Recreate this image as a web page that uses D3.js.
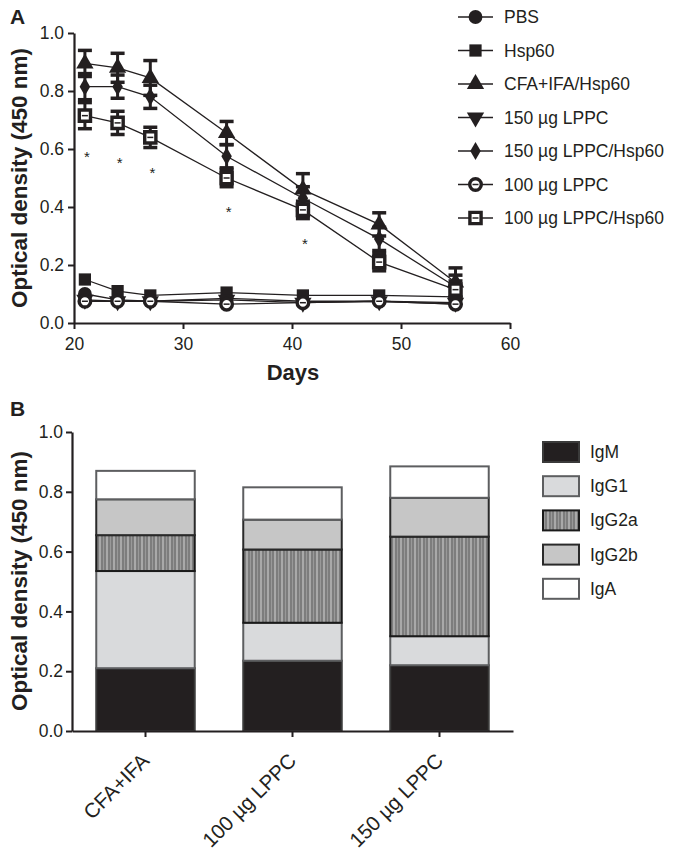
<!DOCTYPE html>
<html><head><meta charset="utf-8">
<script src="https://cdn.jsdelivr.net/npm/d3@7/dist/d3.min.js"></script>
<style>body{margin:0;background:#fff}svg{display:block;font-family:Arial,"Liberation Sans",sans-serif}</style>
</head><body><svg id="c" width="675" height="854"></svg>
<script>
// ---------- Panel A data ----------
const days = [21, 24, 27, 34, 41, 48, 55];
const seriesNames = ["PBS","Hsp60","CFA+IFA/Hsp60","150 µg LPPC","150 µg LPPC/Hsp60","100 µg LPPC","100 µg LPPC/Hsp60"];
const pbs        = [0.10, 0.080, 0.075, 0.085, 0.075, 0.075, 0.065];
const hsp60      = [0.15, 0.110, 0.095, 0.105, 0.095, 0.095, 0.090];
const cfaHsp     = [0.895, 0.88, 0.845, 0.655, 0.46, 0.34, 0.14];
const lppc150    = [0.080, 0.075, 0.075, 0.080, 0.070, 0.075, 0.070];
const lppc150Hsp = [0.815, 0.815, 0.78, 0.575, 0.43, 0.29, 0.125];
const lppc100    = [0.075, 0.075, 0.075, 0.065, 0.070, 0.075, 0.065];
const lppc100Hsp = [0.715, 0.69, 0.64, 0.50, 0.39, 0.21, 0.115];
const errCfa     = [0.045, 0.05, 0.06, 0.04, 0.055, 0.04, 0.05];
const err150Hsp  = [0.045, 0.04, 0.04, 0.04, 0.04, 0.04, 0.04];
const err100Hsp  = [0.045, 0.04, 0.035, 0.03, 0.03, 0.03, 0.03];
const starDays   = [21, 24, 27, 34, 41];
const xTicksA = [20, 30, 40, 50, 60];
const yTicks = [0, 0.2, 0.4, 0.6, 0.8, 1.0];

// ---------- Panel B data ----------
const groups = ["CFA+IFA", "100 µg LPPC", "150 µg LPPC"];
const isotypes = ["IgM", "IgG1", "IgG2a", "IgG2b", "IgA"];
const igM   = [0.21, 0.235, 0.22];
const igG1  = [0.325, 0.127, 0.097];
const igG2a = [0.12, 0.245, 0.333];
const igG2b = [0.12, 0.10, 0.13];
const igA   = [0.095, 0.108, 0.105];

const ink = "#231f20";
const svg = d3.select("#c");
const defs = svg.append("defs");
const pat = defs.append("pattern").attr("id","stripes").attr("patternUnits","userSpaceOnUse")
  .attr("width",7).attr("height",10);
pat.append("rect").attr("width",7).attr("height",10).attr("fill","#7d7d7d");
pat.append("rect").attr("x",1).attr("width",2).attr("height",10).attr("fill","#a9a9a9");
pat.append("rect").attr("x",5).attr("width",1).attr("height",10).attr("fill","#999");

function styleAxis(a, fs){
  a.attr("font-size", fs).attr("font-family","Arial, Liberation Sans, sans-serif");
  a.select(".domain").attr("stroke",ink).attr("stroke-width",2.2);
  a.selectAll(".tick line").attr("stroke",ink).attr("stroke-width",2);
  a.selectAll(".tick text").attr("fill",ink).attr("font-size",fs);
}

// ================= Panel A =================
const xA = d3.scaleLinear().domain([20,60]).range([74,510]);
const yA = d3.scaleLinear().domain([0,1]).range([323,33]);
const gA = svg.append("g");

const axA = gA.append("g").attr("transform","translate(0,323)")
  .call(d3.axisBottom(xA).tickValues(xTicksA).tickSize(6).tickSizeOuter(0).tickFormat(d3.format("d")));
const ayA = gA.append("g").attr("transform","translate(74,0)")
  .call(d3.axisLeft(yA).tickValues(yTicks).tickSize(6).tickSizeOuter(0).tickFormat(d3.format(".1f")));
styleAxis(axA, 17.5); styleAxis(ayA, 17.5);
axA.selectAll(".tick text").attr("dy","1.0em");
ayA.selectAll(".tick text").attr("dx","-1px");

gA.append("text").attr("x",293).attr("y",380).attr("text-anchor","middle")
  .attr("font-weight","bold").attr("font-size",22).attr("fill",ink).text("Days");
gA.append("text").attr("transform","translate(27,178) rotate(-90)").attr("text-anchor","middle")
  .attr("font-weight","bold").attr("font-size",22.5).attr("fill",ink).text("Optical density (450 nm)");
svg.append("text").attr("x",10).attr("y",24).attr("font-weight","bold").attr("font-size",21).attr("fill",ink).text("A");

const seriesA = [
  {name: seriesNames[0], vals: pbs, sym: "circle"},
  {name: seriesNames[1], vals: hsp60, sym: "square"},
  {name: seriesNames[3], vals: lppc150, sym: "tridown"},
  {name: seriesNames[5], vals: lppc100, sym: "ocircle"},
  {name: seriesNames[2], vals: cfaHsp, sym: "triangle", err: errCfa},
  {name: seriesNames[4], vals: lppc150Hsp, sym: "diamond", err: err150Hsp},
  {name: seriesNames[6], vals: lppc100Hsp, sym: "osquare", err: err100Hsp}
];
const symMap = {circle:[d3.symbolCircle,150], square:[d3.symbolSquare,150], triangle:[d3.symbolTriangle,130],
  tridown:[d3.symbolTriangle,130], diamond:[d3.symbolDiamond,95], ocircle:[d3.symbolCircle,105], osquare:[d3.symbolSquare,125]};
function drawMarker(g, x, y, sym){
  const [type,size] = symMap[sym];
  const p = g.append("path").attr("d", d3.symbol().type(type).size(size)())
    .attr("transform", `translate(${x},${y})` + (sym==="tridown"?" rotate(180)":""));
  if (sym==="ocircle"||sym==="osquare"){
    p.attr("fill","#fff").attr("stroke",ink).attr("stroke-width",3.4);
    g.append("line").attr("x1",x-3).attr("x2",x+3).attr("y1",y).attr("y2",y).attr("stroke",ink).attr("stroke-width",1.5);
  } else p.attr("fill",ink);
}
const line = d3.line().x((d,i)=>xA(days[i])).y(d=>yA(d));
const plot = gA.append("g");
seriesA.forEach(s=>{
  const g = plot.append("g");
  g.append("path").attr("d", line(s.vals)).attr("fill","none").attr("stroke",ink).attr("stroke-width",1.3);
  if (s.err) s.vals.forEach((v,i)=>{
    const x = xA(days[i]);
    [v + s.err[i], v - s.err[i]].forEach(e=>{
      g.append("line").attr("x1",x).attr("x2",x).attr("y1",yA(v)).attr("y2",yA(e)).attr("stroke",ink).attr("stroke-width",3);
      g.append("line").attr("x1",x-7).attr("x2",x+7).attr("y1",yA(e)).attr("y2",yA(e)).attr("stroke",ink).attr("stroke-width",3.5);
    });
  });
  s.vals.forEach((v,i)=>drawMarker(g, xA(days[i]), yA(v), s.sym));
});
starDays.forEach(d=>{
  const i = days.indexOf(d);
  const v = lppc100Hsp[i] - err100Hsp[i];
  gA.append("text").attr("x",xA(d)+2).attr("y",yA(v)+ (i<2?33:30)).attr("text-anchor","middle")
    .attr("font-size",15).attr("fill",ink).text("*");
});

// legend A
const legSyms = ["circle","square","triangle","tridown","diamond","ocircle","osquare"];
seriesNames.forEach((name,i)=>{
  const y = 17 + i*33.5;
  const g = svg.append("g");
  g.append("line").attr("x1",458).attr("x2",493).attr("y1",y).attr("y2",y).attr("stroke",ink).attr("stroke-width",1.6);
  drawMarker(g, 475.5, y, legSyms[i]);
  g.append("text").attr("x",504).attr("y",y+6).attr("font-size",17.5).attr("fill",ink).text(name);
});

// ================= Panel B =================
const xB = d3.scaleBand().domain(groups).range([72,513]).paddingInner(0.33).paddingOuter(0.165);
const yB = d3.scaleLinear().domain([0,1]).range([731,432]);
const gB = svg.append("g");
const stackData = groups.map((g,i)=>({group:g, IgM:igM[i], IgG1:igG1[i], IgG2a:igG2a[i], IgG2b:igG2b[i], IgA:igA[i]}));
const stacked = d3.stack().keys(isotypes)(stackData);
const fills = {IgM:ink, IgG1:"#d9dadc", IgG2a:"url(#stripes)", IgG2b:"#c6c6c6", IgA:"#fff"};
const strokes = {IgM:"#3a3a3a", IgG1:"#5d5e60", IgG2a:"#1a1a1a", IgG2b:"#2a2a2a", IgA:"#5d5e60"};
stacked.forEach(layer=>{
  gB.append("g").selectAll("rect").data(layer).join("rect")
    .attr("x", d=>xB(d.data.group)).attr("width", xB.bandwidth())
    .attr("y", d=>yB(d[1])).attr("height", d=>yB(d[0])-yB(d[1]))
    .attr("fill", fills[layer.key]).attr("stroke", strokes[layer.key]).attr("stroke-width",2);
});
const axB = gB.append("g").attr("transform","translate(0,731)")
  .call(d3.axisBottom(xB).tickSize(6).tickSizeOuter(0));
const ayB = gB.append("g").attr("transform","translate(72,0)")
  .call(d3.axisLeft(yB).tickValues(yTicks).tickSize(6).tickSizeOuter(0).tickFormat(d3.format(".1f")));
styleAxis(axB, 20.5); styleAxis(ayB, 17.5);
axB.selectAll(".tick text").attr("text-anchor","end").attr("dy",null).attr("y",0)
  .attr("transform","translate(5,31) rotate(-45)");
gB.append("text").attr("transform","translate(27,581) rotate(-90)").attr("text-anchor","middle")
  .attr("font-weight","bold").attr("font-size",22.5).attr("fill",ink).text("Optical density (450 nm)");
svg.append("text").attr("x",10).attr("y",416).attr("font-weight","bold").attr("font-size",21).attr("fill",ink).text("B");

// legend B
isotypes.forEach((k,i)=>{
  const y = 442 + i*34.2;
  svg.append("rect").attr("x",543).attr("y",y).attr("width",36).attr("height",20)
    .attr("fill",fills[k]).attr("stroke",strokes[k]).attr("stroke-width",2);
  svg.append("text").attr("x",590).attr("y",y+16).attr("font-size",17.5).attr("fill",ink).text(k);
});
</script></body></html>
